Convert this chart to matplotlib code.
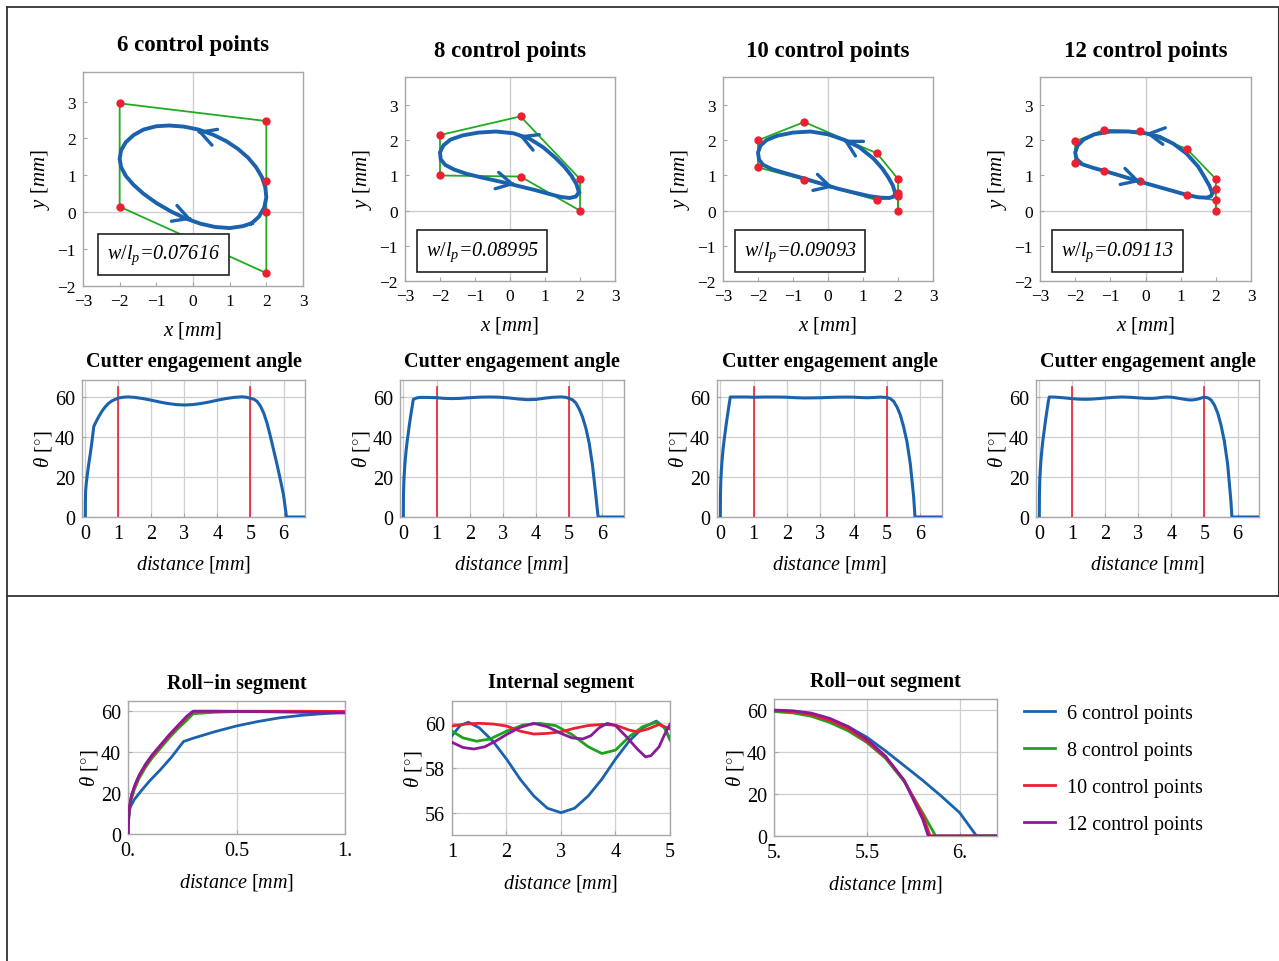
import matplotlib
matplotlib.use("Agg")
import matplotlib.pyplot as plt
from matplotlib.lines import Line2D
import numpy as np

plt.rcParams['font.family'] = ['Liberation Serif', 'DejaVu Serif']
plt.rcParams['mathtext.fontset'] = 'custom'
plt.rcParams['mathtext.rm'] = 'Liberation Serif'
plt.rcParams['mathtext.it'] = 'Liberation Serif:italic'
plt.rcParams['mathtext.bf'] = 'Liberation Serif:bold'

# ---------------- data ----------------
series_names = ["6 control points", "8 control points", "10 control points", "12 control points"]
series_colors = ["#1a62ae", "#1ea31e", "#ec2030", "#8b1a96"]
ratios = ["0.07616", "0.08995", "0.09093", "0.09113"]

# control polygons (closed)
ctrl_x = [
    [2, 2, 2, -2, -2, 2],
    [2, 2, 0.3, -2, -2, 0.3],
    [2, 2, 2, 1.4, -0.68, -2, -2, -0.68, 1.4, 2],
    [2, 2, 2, 1.17, -0.16, -1.17, -2, -2, -1.17, -0.16, 1.17, 2],
]
ctrl_y = [
    [0, 0.85, 2.47, 2.95, 0.15, -1.65],
    [0, 0.9, 2.68, 2.15, 1.0, 0.97],
    [0, 0.5, 0.9, 1.63, 2.52, 2.0, 1.23, 0.88, 0.3, 0.42],
    [0, 0.62, 0.9, 1.76, 2.26, 2.3, 1.97, 1.35, 1.14, 0.83, 0.45, 0.29],
]

# tool path curves (counter-clockwise)
path_x = [
    [1.6, 1.8, 1.94, 2.0, 1.97, 1.88, 1.72, 1.5, 1.22, 0.9, 0.55, 0.15, -0.25, -0.65, -1.0,
     -1.35, -1.62, -1.83, -1.96, -2.0, -1.96, -1.83, -1.62, -1.35, -1.0, -0.6, -0.2, 0.2, 0.6,
     1.0, 1.35, 1.6],
    [1.97, 1.9, 1.75, 1.55, 1.3, 0.95, 0.55, 0.1, -0.4, -0.9, -1.35, -1.7, -1.9, -2.0, -1.98,
     -1.85, -1.6, -1.25, -0.8, -0.3, 0.2, 0.7, 1.1, 1.45, 1.7, 1.88, 1.97],
    [1.92, 1.85, 1.72, 1.55, 1.3, 0.9, 0.5, 0.0, -0.5, -1.0, -1.45, -1.75, -1.93, -2.0, -1.97,
     -1.85, -1.6, -1.2, -0.7, -0.2, 0.3, 0.8, 1.2, 1.5, 1.75, 1.88, 1.92],
    [1.9, 1.82, 1.68, 1.5, 1.17, 0.8, 0.4, 0.0, -0.5, -1.0, -1.45, -1.75, -1.93, -2.0, -1.96,
     -1.8, -1.5, -1.17, -0.6, 0.0, 0.6, 1.17, 1.5, 1.75, 1.87, 1.9],
]
path_y = [
    [-0.3, -0.12, 0.12, 0.4, 0.68, 0.95, 1.22, 1.48, 1.72, 1.93, 2.1, 2.24, 2.32, 2.35, 2.33,
     2.24, 2.09, 1.9, 1.68, 1.45, 1.22, 0.98, 0.74, 0.5, 0.25, 0.02, -0.17, -0.31, -0.4,
     -0.43, -0.38, -0.3],
    [0.52, 0.75, 1.0, 1.25, 1.5, 1.8, 2.05, 2.2, 2.25, 2.22, 2.14, 2.02, 1.86, 1.66, 1.46,
     1.3, 1.17, 1.05, 0.94, 0.83, 0.71, 0.59, 0.48, 0.39, 0.36, 0.4, 0.52],
    [0.5, 0.72, 0.95, 1.2, 1.48, 1.8, 2.0, 2.17, 2.25, 2.22, 2.13, 2.01, 1.85, 1.65, 1.45,
     1.3, 1.18, 1.06, 0.92, 0.77, 0.62, 0.5, 0.41, 0.37, 0.36, 0.4, 0.5],
    [0.5, 0.7, 0.95, 1.25, 1.62, 1.9, 2.1, 2.2, 2.25, 2.25, 2.17, 2.03, 1.85, 1.65, 1.47,
     1.32, 1.22, 1.13, 0.96, 0.78, 0.61, 0.45, 0.38, 0.37, 0.42, 0.5],
]
# direction arrows: (x, y, dx, dy)
arrows = [
    [(-0.03, -0.2, 1, -0.35), (0.11, 2.2, -1, 0.35)],
    [(0.15, 0.74, 1, -0.22), (0.25, 2.14, -1, 0.4)],
    [(0.15, 0.66, 1, -0.28), (0.43, 2.02, -1, 0.55)],
    [(-0.14, 0.82, 1, -0.3), (0.0, 2.2, -1, 0.15)],
]

# roll-in segment (distance 0..1)
rollin_d = [
    [0, 0.003, 0.01, 0.03, 0.06, 0.1, 0.15, 0.2, 0.256, 0.3, 0.4, 0.5, 0.6, 0.7, 0.8, 0.9, 1.0],
    [0, 0.005, 0.015, 0.03, 0.05, 0.08, 0.11, 0.15, 0.19, 0.23, 0.27, 0.3, 0.4, 0.5, 0.7, 1.0],
    [0, 0.005, 0.015, 0.03, 0.05, 0.08, 0.11, 0.15, 0.19, 0.23, 0.27, 0.3, 0.4, 0.6, 0.8, 1.0],
    [0, 0.005, 0.015, 0.03, 0.05, 0.08, 0.11, 0.15, 0.19, 0.23, 0.27, 0.3, 0.4, 0.6, 0.8, 1.0],
]
rollin_t = [
    [0, 8, 13, 17, 21, 26, 31.5, 37.5, 45.2, 46.8, 50, 52.8, 55, 56.8, 58, 58.8, 59.45],
    [0, 11, 17, 22, 27, 32.5, 37, 42, 47, 51.5, 55.5, 58.8, 59.5, 59.8, 59.8, 59.65],
    [0, 12, 18, 23, 28, 33.5, 38, 43, 48, 52.5, 57, 60, 60, 60, 60, 59.88],
    [0, 12, 18.5, 23.5, 28.5, 34, 38.5, 43.5, 48.5, 53, 57.5, 60, 60, 59.8, 59.5, 59.15],
]

# internal segment (distance 1..5)
internal_d = [
    [1.0, 1.15, 1.3, 1.5, 1.75, 2.0, 2.25, 2.5, 2.75, 3.0, 3.25, 3.5, 3.75, 4.0, 4.25, 4.5, 4.75, 4.9, 5.0],
    [1.0, 1.2, 1.45, 1.7, 2.0, 2.3, 2.6, 2.9, 3.2, 3.5, 3.75, 4.0, 4.25, 4.5, 4.75, 4.9, 5.0],
    [1.0, 1.25, 1.5, 1.75, 2.0, 2.25, 2.5, 2.75, 3.0, 3.25, 3.5, 3.75, 4.0, 4.25, 4.4, 4.6, 4.8, 5.0],
    [1.0, 1.2, 1.4, 1.6, 1.8, 2.0, 2.25, 2.5, 2.75, 3.0, 3.2, 3.4, 3.55, 3.7, 3.85, 4.0, 4.2, 4.4,
     4.55, 4.65, 4.8, 4.9, 5.0],
]
internal_t = [
    [59.45, 59.9, 60.05, 59.8, 59.2, 58.4, 57.5, 56.75, 56.2, 56.0, 56.2, 56.75, 57.5, 58.4, 59.2,
     59.8, 60.1, 59.8, 59.3],
    [59.65, 59.35, 59.2, 59.3, 59.65, 59.92, 60.0, 59.9, 59.5, 58.95, 58.65, 58.8, 59.4, 59.85,
     60.05, 59.8, 59.25],
    [59.88, 59.97, 60.0, 59.97, 59.88, 59.65, 59.52, 59.55, 59.62, 59.78, 59.9, 59.95, 59.92,
     59.7, 59.62, 59.75, 59.95, 59.75],
    [59.15, 58.92, 58.85, 58.95, 59.2, 59.5, 59.82, 60.0, 59.85, 59.55, 59.35, 59.3, 59.45, 59.8,
     60.0, 59.9, 59.4, 58.85, 58.5, 58.55, 58.95, 59.5, 59.95],
]

# roll-out segment (distance 5..end)
rollout_d = [
    [5.0, 5.1, 5.2, 5.3, 5.4, 5.5, 5.6, 5.7, 5.8, 5.9, 6.0, 6.09, 6.7],
    [5.0, 5.1, 5.2, 5.3, 5.4, 5.5, 5.6, 5.7, 5.8, 5.87, 6.7],
    [5.0, 5.1, 5.2, 5.3, 5.4, 5.5, 5.6, 5.7, 5.8, 5.84, 6.7],
    [5.0, 5.1, 5.2, 5.3, 5.4, 5.5, 5.6, 5.7, 5.8, 5.83, 6.7],
]
rollout_t = [
    [59.3, 58.9, 57.8, 55.5, 52.0, 47.0, 40.5, 33.5, 26.5, 19.0, 11.0, 0, 0],
    [59.25, 58.6, 57.0, 54.0, 50.0, 44.5, 37.0, 26.0, 11.0, 0, 0],
    [59.75, 59.2, 57.8, 55.0, 51.0, 45.0, 37.5, 26.5, 10.0, 0, 0],
    [59.95, 59.6, 58.5, 56.0, 52.0, 46.0, 38.0, 26.5, 8.0, 0, 0],
]

segment_bounds = [1, 5]

# ---------------- figure ----------------
W, H = 1279, 962
fig = plt.figure(figsize=(W / 100, H / 100), dpi=100)
fig.patch.set_facecolor("white")


def ax_at(l, t, r, b):
    return fig.add_axes([l / W, 1 - b / H, (r - l) / W, (b - t) / H])


def ftext(x, y, s, **kw):
    fig.text(x / W, 1 - y / H, s, **kw)


FRAME = "#a8a8a8"
GRID = "#cfcfcf"


def style(ax, fs, pad=4):
    for sp in ax.spines.values():
        sp.set_color(FRAME)
        sp.set_linewidth(1.0)
    ax.tick_params(direction="in", length=3, width=0.8, color=FRAME, labelsize=fs, pad=pad)


# frame lines around panels
fig.add_artist(Line2D([7 / W, 7 / W], [0, 1 - 8 / H], color="#333333", lw=1.3))
fig.add_artist(Line2D([7 / W, 1], [1 - 8 / H, 1 - 8 / H], color="#333333", lw=1.3))
fig.add_artist(Line2D([7 / W, 1], [1 - 597 / H, 1 - 597 / H], color="#333333", lw=1.3))
fig.add_artist(Line2D([1277.5 / W, 1277.5 / W], [1 - 597 / H, 1 - 8 / H], color="#333333", lw=0.8))

top_boxes = [(83, 73, 303, 287), (405, 78, 615, 282), (723, 78, 933, 282), (1040, 78, 1251, 282)]
mid_boxes = [(82, 381, 305, 518), (400, 381, 624, 518), (717, 381, 942, 518), (1036, 381, 1259, 518)]

blue = series_colors[0]
for i in range(4):
    l, t, r, b = top_boxes[i]
    ax = ax_at(l, t, r, b)
    style(ax, 12.5, pad=5)
    ax.set_xlim(-3, 3)
    ax.set_ylim(-2, 3.8)
    ax.set_xticks([-3, -2, -1, 0, 1, 2, 3])
    ax.set_yticks([-2, -1, 0, 1, 2, 3])
    ax.set_xticklabels(["\u22123", "\u22122", "\u22121", "0", "1", "2", "3"])
    ax.set_yticklabels(["\u22122", "\u22121", "0", "1", "2", "3"])
    ax.axhline(0, color=GRID, lw=1.0, zorder=0)
    ax.axvline(0, color=GRID, lw=1.0, zorder=0)
    cx = ctrl_x[i] + [ctrl_x[i][0]]
    cy = ctrl_y[i] + [ctrl_y[i][0]]
    ax.plot(cx, cy, color="#22aa22", lw=1.3, zorder=2)
    ax.plot(path_x[i], path_y[i], color=blue, lw=2.8, zorder=3, solid_joinstyle="round")
    ax.plot(ctrl_x[i], ctrl_y[i], "o", color="#ec2030", ms=6, zorder=4, mec="none")
    for (x, y, dx, dy) in arrows[i]:
        n = np.hypot(dx, dy)
        ax.annotate("", xy=(x, y), xytext=(x - 0.06 * dx / n, y - 0.06 * dy / n),
                    arrowprops=dict(arrowstyle="->,head_length=1.1,head_width=0.6",
                                    color=blue, lw=2.4, shrinkA=0, shrinkB=0), zorder=5)
    ax.text(-0.8, -1.15, r"$w/l_p$=" + ratios[i], fontsize=14.5, fontstyle="italic",
            ha="center", va="center", zorder=6,
            bbox=dict(boxstyle="square,pad=0.45", fc="white", ec="#222222", lw=1.2))
    ax.set_xlabel(r"$x$ [$mm$]", fontsize=15, labelpad=7)
    ax.set_ylabel(r"$y$ [$mm$]", fontsize=15, labelpad=4)
    ftext((l + r) / 2, t - 27, series_names[i], fontsize=16.5, fontweight="bold",
          ha="center", va="center")

    # cutter engagement angle
    l, t, r, b = mid_boxes[i]
    ax = ax_at(l, t, r, b)
    style(ax, 14.5, pad=5)
    d = rollin_d[i] + internal_d[i][1:] + rollout_d[i][1:]
    th = rollin_t[i] + internal_t[i][1:] + rollout_t[i][1:]
    ax.set_xlim(-0.1, 6.65)
    ax.set_ylim(0, 68.5)
    ax.set_xticks(range(7))
    ax.set_yticks([0, 20, 40, 60])
    ax.grid(True, color=GRID, lw=0.9)
    ax.set_axisbelow(True)
    for xb in segment_bounds:
        ax.plot([xb, xb], [0, 65], color="#ec2030", lw=1.2, zorder=2)
    ax.plot(d, th, color=blue, lw=2.2, zorder=3, clip_on=True)
    ax.set_xlabel(r"$distance$ [$mm$]", fontsize=14.5, labelpad=7)
    ax.set_ylabel(r"$\theta\ [^{\circ}]$", fontsize=15, labelpad=1)
    ftext((l + r) / 2, t - 19, "Cutter engagement angle", fontsize=14.5, fontweight="bold",
          ha="center", va="center")

# ---------------- bottom row ----------------
bot_boxes = [(128, 702, 345, 835), (452, 702, 670, 836), (774, 700, 997, 837)]
bot_titles = ["Roll\u2212in segment", "Internal segment", "Roll\u2212out segment"]
seg_d = [rollin_d, internal_d, rollout_d]
seg_t = [rollin_t, internal_t, rollout_t]
xlims = [(0, 1), (1, 5), (5, 6.2)]
ylims = [(0, 65), (55, 61), (0, 65.2)]
xt = [[0, 0.5, 1], [1, 2, 3, 4, 5], [5, 5.5, 6]]
xtl = [["0.", "0.5", "1."], ["1", "2", "3", "4", "5"], ["5.", "5.5", "6."]]
yt = [[0, 20, 40, 60], [56, 58, 60], [0, 20, 40, 60]]
title_dy = [18, 19, 18]

handles = []
for k in range(3):
    l, t, r, b = bot_boxes[k]
    ax = ax_at(l, t, r, b)
    style(ax, 14.5, pad=5)
    ax.set_xlim(*xlims[k])
    ax.set_ylim(*ylims[k])
    ax.set_xticks(xt[k])
    ax.set_xticklabels(xtl[k])
    ax.set_yticks(yt[k])
    ax.grid(True, color=GRID, lw=0.9)
    ax.set_axisbelow(True)
    for i in range(4):
        ln, = ax.plot(seg_d[k][i], seg_t[k][i], color=series_colors[i], lw=2.0, zorder=3 + i)
        if k == 0:
            handles.append(ln)
    ax.set_xlabel(r"$distance$ [$mm$]", fontsize=14.5, labelpad=8)
    ax.set_ylabel(r"$\theta\ [^{\circ}]$", fontsize=15, labelpad=1)
    ftext((l + r) / 2, t - title_dy[k], bot_titles[k], fontsize=14.5, fontweight="bold",
          ha="center", va="center")

fig.legend(handles, series_names, loc="upper left", bbox_to_anchor=(1006 / W, 1 - 687 / H),
           frameon=False, fontsize=14.5, handlelength=1.55, labelspacing=0.89, handletextpad=0.6)

fig.savefig("out.png", dpi=100, facecolor="white")
